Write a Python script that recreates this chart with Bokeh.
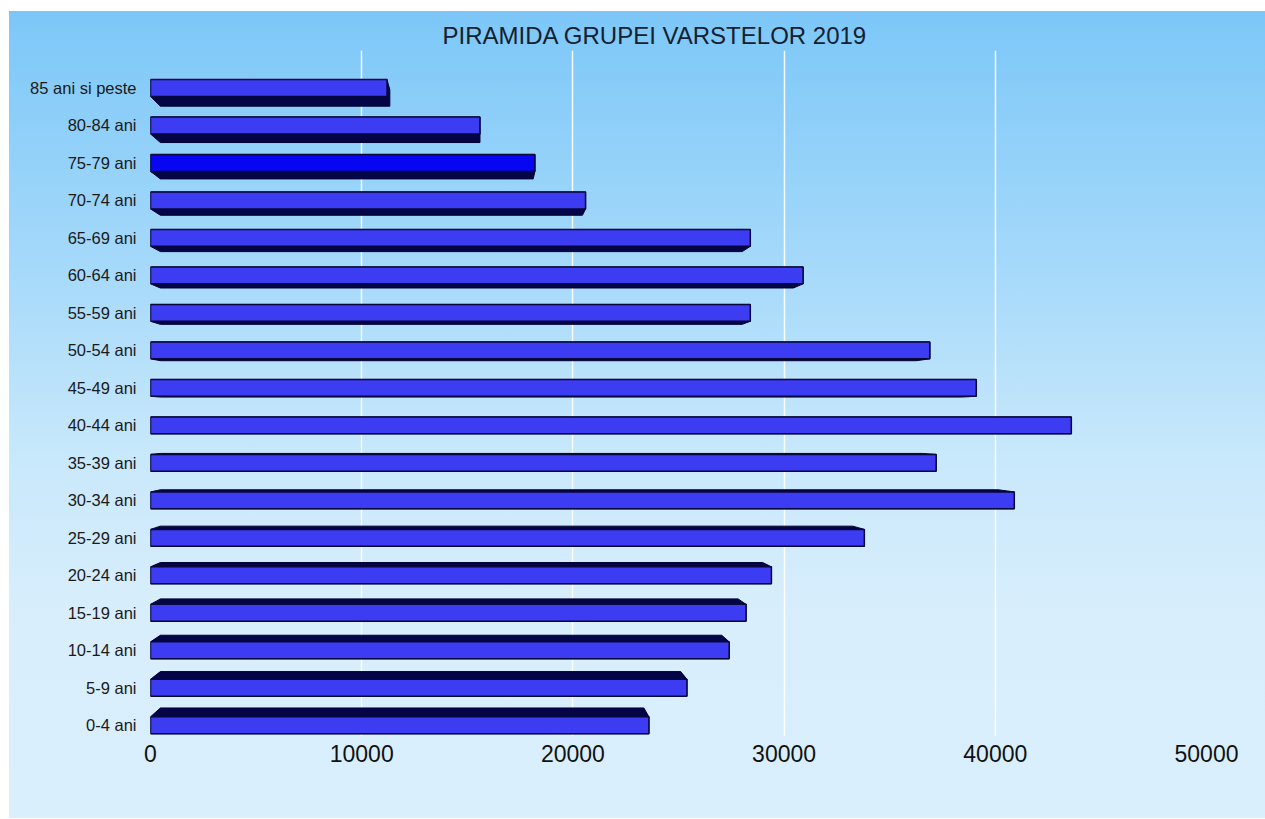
from bokeh.plotting import figure
from bokeh.models import FixedTicker, Range1d, ColumnDataSource
from bokeh.embed import file_html
from bokeh.resources import INLINE

# ---- data (bottom to top) ----
age_groups = ["0-4 ani", "5-9 ani", "10-14 ani", "15-19 ani", "20-24 ani", "25-29 ani",
              "30-34 ani", "35-39 ani", "40-44 ani", "45-49 ani", "50-54 ani", "55-59 ani",
              "60-64 ani", "65-69 ani", "70-74 ani", "75-79 ani", "80-84 ani", "85 ani si peste"]
population = [23600, 25400, 27400, 28200, 29400, 33800,
              40900, 37200, 43600, 39100, 36900, 28400,
              30900, 28400, 20600, 18200, 15600, 11200]
x_ticks = [0, 10000, 20000, 30000, 40000, 50000]
title_text = "PIRAMIDA GRUPEI VARSTELOR 2019"

FONT = "Liberation Sans"
n = len(age_groups)
idx = list(range(n))

p = figure(width=1256, height=807, output_backend="svg", toolbar_location=None,
           x_range=Range1d(0, 50000), y_range=Range1d(-0.3, 18.0),
           min_border_left=141, min_border_right=59, min_border_top=39, min_border_bottom=82,
           x_axis_location="below", y_axis_location="left")
p.styles = {"background": "linear-gradient(to bottom, #7cc7f8 0%, #a3d8fa 30%, #c8e8fb 55%, #d8eefc 75%, #d9effc 100%)",
            "margin-left": "9px", "margin-top": "11px"}
p.border_fill_alpha = 0
p.background_fill_alpha = 0
p.outline_line_color = None

p.title.text = title_text
p.title.align = "left"
p.title.offset = 292
p.title.text_font = FONT
p.title.text_font_size = "24px"
p.title.text_font_style = "normal"
p.title.text_color = "#16202e"
p.title.standoff = 4

# axes
p.xaxis.ticker = FixedTicker(ticks=x_ticks)
p.xaxis.major_label_text_font = FONT
p.xaxis.major_label_text_font_size = "23px"
p.xaxis.major_label_text_color = "#111111"
p.xaxis.axis_line_color = None
p.xaxis.major_tick_line_color = None
p.xaxis.minor_tick_line_color = None
p.xaxis.major_label_standoff = 2

p.yaxis.ticker = FixedTicker(ticks=idx)
p.yaxis.major_label_overrides = {i: g for i, g in zip(idx, age_groups)}
p.yaxis.major_label_text_font = FONT
p.yaxis.major_label_text_font_size = "16.5px"
p.yaxis.major_label_text_color = "#1a1a1a"
p.yaxis.axis_line_color = None
p.yaxis.major_tick_line_color = None
p.yaxis.minor_tick_line_color = None
p.yaxis.major_label_standoff = 8

p.ygrid.grid_line_color = None
p.xgrid.grid_line_color = "white"
p.xgrid.grid_line_width = 1.5
p.xgrid.grid_line_alpha = 0.9

# ---- 3D-ish bars: perspective depth toward a vanishing point ----
bar_h = 0.45
vp_x, vp_y, k = 15600.0, 8.1, 0.03


def hull(pts):
    pts = sorted(set(pts))
    def cross(o, a, b):
        return (a[0] - o[0]) * (b[1] - o[1]) - (a[1] - o[1]) * (b[0] - o[0])
    lower, upper = [], []
    for q in pts:
        while len(lower) >= 2 and cross(lower[-2], lower[-1], q) <= 0:
            lower.pop()
        lower.append(q)
    for q in reversed(pts):
        while len(upper) >= 2 and cross(upper[-2], upper[-1], q) <= 0:
            upper.pop()
        upper.append(q)
    return lower[:-1] + upper[:-1]


xs, ys = [], []
for i, v in zip(idx, population):
    face = [(0.0, i - bar_h / 2), (float(v), i - bar_h / 2),
            (float(v), i + bar_h / 2), (0.0, i + bar_h / 2)]
    back = [(vp_x + (x - vp_x) * (1 - k), vp_y + (y - vp_y) * (1 - k)) for x, y in face]
    h = hull(face + back)
    xs.append([q[0] for q in h])
    ys.append([q[1] for q in h])

p.patches(xs, ys, fill_color="#040448", line_color="#020230", line_width=1)

colors = ["#0606f2" if g == "75-79 ani" else "#3c3cf2" for g in age_groups]
src = ColumnDataSource(dict(y=idx, right=population, color=colors))
p.hbar(y="y", left=0, right="right", height=bar_h, source=src,
       fill_color="color", line_color="#07073a", line_width=1.5)

open("out.html", "w").write(file_html(p, INLINE))
